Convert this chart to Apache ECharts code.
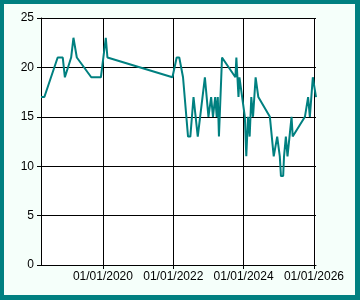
<!DOCTYPE html>
<html>
<head>
<meta charset="utf-8">
<script src="https://cdn.jsdelivr.net/npm/echarts@6/dist/echarts.min.js"></script>
<style>
html,body{margin:0;padding:0;background:#F5FFFA;}
#chart{position:absolute;left:0;top:0;width:360px;height:300px;}
#frame{position:absolute;left:0;top:0;width:360px;height:300px;box-sizing:border-box;border-style:solid;border-color:#008080;border-width:4px 5px 5px 4px;pointer-events:none;}
</style>
</head>
<body>
<div id="chart"></div>
<div id="frame"></div>
<script>
const dates = [
  '2018-03-29','2018-05-03','2018-09-18','2018-11-10','2018-12-02','2019-02-05','2019-03-01','2019-04-05',
  '2019-09-02','2019-12-11','2020-01-31','2020-02-17','2021-12-23','2022-02-05','2022-03-04','2022-04-12',
  '2022-06-03','2022-06-27','2022-07-30','2022-09-12','2022-11-25','2023-01-01','2023-01-29','2023-02-17',
  '2023-03-12','2023-03-28','2023-04-08','2023-04-20','2023-05-22','2023-10-08','2023-10-18','2023-10-29',
  '2023-11-09','2023-11-19','2024-01-14','2024-01-29','2024-02-16','2024-03-04','2024-03-21','2024-04-08',
  '2024-05-05','2024-06-02','2024-09-30','2024-11-09','2024-12-15','2025-01-11','2025-01-23','2025-02-15',
  '2025-02-24','2025-03-15','2025-04-01','2025-05-13','2025-05-25','2025-09-29','2025-11-01','2025-11-19',
  '2025-12-20','2026-01-22'
];
const values = [
  17,17,21,21,19,21,23,21,
  19,19,23,21,19,21,21,19,
  13,13,17,13,19,15,17,15,
  17,15,17,13,21,19,21,19,
  17,19,15,11,15,13,17,15,
  19,17,15,11,13,11,9,9,
  11,13,11,15,13,15,17,15,
  19,17
];
const xTickDates = ['2020-01-01','2022-01-01','2024-01-01','2026-01-01'];
const yMin = 0, yMax = 25, yStep = 5;

const chart = echarts.init(document.getElementById('chart'), null, {renderer:'canvas'});
const pad = n => (n < 10 ? '0' : '') + n;
const toTs = s => echarts.time.parse(s).getTime();
const xTicks = xTickDates.map(toTs);
const xs = dates.map(toTs);
const seriesData = xs.map((t, i) => [t, values[i]]);
const black = '#000';
const font = {fontFamily:'Liberation Sans, Arial, sans-serif', fontSize:12, color:'#000'};

chart.setOption({
  animation:false,
  backgroundColor:'#F5FFFA',
  grid:{left:41, top:18, right:44, bottom:35, show:true, backgroundColor:'#fff', borderWidth:0, containLabel:false},
  xAxis:{
    type:'value', min:Math.min.apply(null, xs), max:Math.max.apply(null, xs), scale:true,
    axisLine:{show:true, lineStyle:{color:black, width:1}},
    axisTick:{show:true, length:4, customValues:xTicks, lineStyle:{color:black}},
    splitLine:{show:true, lineStyle:{color:black, width:1}},
    axisLabel:Object.assign({
      customValues:xTicks, margin:6, hideOverlap:false, showMinLabel:true, showMaxLabel:true,
      formatter:function(v){const d=new Date(v);return pad(d.getMonth()+1)+'/'+pad(d.getDate())+'/'+d.getFullYear();}
    }, font)
  },
  yAxis:{
    type:'value', min:yMin, max:yMax, interval:yStep,
    axisLine:{show:true, lineStyle:{color:black, width:1}},
    axisTick:{show:true, length:4, lineStyle:{color:black}},
    splitLine:{show:true, lineStyle:{color:black, width:1}},
    axisLabel:Object.assign({margin:7}, font)
  },
  series:[{
    type:'line', data:seriesData, showSymbol:false, symbol:'none',
    lineStyle:{color:'#008080', width:2}, itemStyle:{color:'#008080'}
  }]
});
</script>
</body>
</html>
